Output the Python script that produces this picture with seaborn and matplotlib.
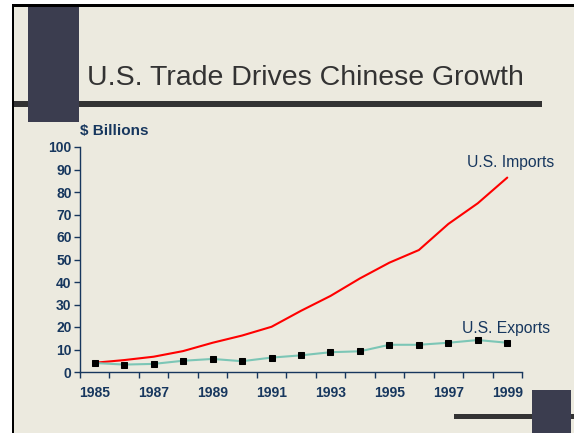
import matplotlib
matplotlib.use('Agg')
import matplotlib.pyplot as plt
import seaborn as sns
import numpy as np
import pandas as pd
from matplotlib.patches import Rectangle

# ---- data ----
years = list(range(1985, 2000))
imports = [4.1, 5.3, 6.8, 9.3, 13.0, 16.2, 20.1, 27.2, 33.8, 41.6, 48.6, 54.2, 65.8, 75.0, 86.4]
exports = [4.0, 3.3, 3.6, 5.0, 5.8, 4.8, 6.4, 7.4, 8.8, 9.2, 12.1, 12.1, 13.0, 14.2, 13.0]
year_labels = ['1985', '1987', '1989', '1991', '1993', '1995', '1997', '1999']
y_ticks = [0, 10, 20, 30, 40, 50, 60, 70, 80, 90, 100]
title = 'U.S. Trade Drives Chinese Growth'
y_label = '$ Billions'
import_label = 'U.S. Imports'
export_label = 'U.S. Exports'

sns.set_theme(style='white')
plt.rcParams['font.family'] = ['Liberation Sans', 'DejaVu Sans']

W, H = 574, 433
fig = plt.figure(figsize=(W / 100, H / 100), dpi=100)
fig.patch.set_facecolor('white')


def rect(x0, y0, x1, y1, color, z):
    fig.patches.append(Rectangle((x0 / W, 1 - y1 / H), (x1 - x0) / W, (y1 - y0) / H,
                                 transform=fig.transFigure, facecolor=color,
                                 edgecolor='none', zorder=z))


BG = '#ECEADF'
NAVY = '#17375E'
rect(12, 4.5, W + 1, H + 1, BG, -10)
rect(12, 4.5, W + 1, 6.7, 'black', -5)          # top border
rect(12, 4.5, 14.2, H + 1, 'black', -5)         # left border
rect(14, 101, 542, 107, '#333333', -4)          # title rule
rect(28, 7, 79, 122, '#3B3D4F', -3)             # top-left block
rect(454, 414, W + 1, 419, '#333333', -4)       # bottom rule
rect(532, 390, 571, H + 1, '#3B3D4F', -3)       # bottom-right block

fig.text(87 / W, 1 - 85 / H, title, fontsize=20.5, color='#333333',
         ha='left', va='baseline')

ax = fig.add_axes([80 / W, 1 - 372 / H, 442 / W, 225 / H])
ax.patch.set_alpha(0)

idx = np.arange(len(years))
df = pd.DataFrame({'idx': idx, 'imports': imports, 'exports': exports})
sns.lineplot(data=df, x='idx', y='imports', color='#FF0000', linewidth=1.5, ax=ax)
sns.lineplot(data=df, x='idx', y='exports', color='#7CC6B6', linewidth=1.5,
             marker='s', markersize=4, markerfacecolor='black',
             markeredgecolor='black', ax=ax)

ax.set_xlim(-0.5, len(years) - 0.5)
ax.set_ylim(0, 100)
ax.set_xlabel('')
ax.set_ylabel('')
for s in ['top', 'right']:
    ax.spines[s].set_visible(False)
for s in ['left', 'bottom']:
    ax.spines[s].set_color(NAVY)
    ax.spines[s].set_linewidth(1.0)

ax.set_xticks(np.arange(-0.5, len(years), 1.0))
ax.set_xticklabels([])
ax.set_xticks(np.arange(0, len(years), 2), minor=True)
ax.set_xticklabels(year_labels, minor=True, fontsize=10, fontweight='bold', color=NAVY)
ax.tick_params(axis='x', which='major', direction='out', length=4, width=1,
               color=NAVY, bottom=True)
ax.tick_params(axis='x', which='minor', length=0, pad=10, bottom=True)
ax.set_yticks(y_ticks)
ax.set_yticklabels([str(v) for v in y_ticks], fontsize=10, fontweight='bold', color=NAVY)
ax.tick_params(axis='y', direction='out', length=4, width=1, color=NAVY, pad=2, left=True)
ax.grid(False)

fig.text(80 / W, 1 - 135 / H, y_label, fontsize=11, fontweight='bold', color=NAVY,
         ha='left', va='baseline')
fig.text(467 / W, 1 - 167 / H, import_label, fontsize=11.3, color=NAVY,
         ha='left', va='baseline')
fig.text(462 / W, 1 - 333 / H, export_label, fontsize=11.3, color=NAVY,
         ha='left', va='baseline')

fig.savefig('out.png', dpi=100, facecolor=fig.get_facecolor())
